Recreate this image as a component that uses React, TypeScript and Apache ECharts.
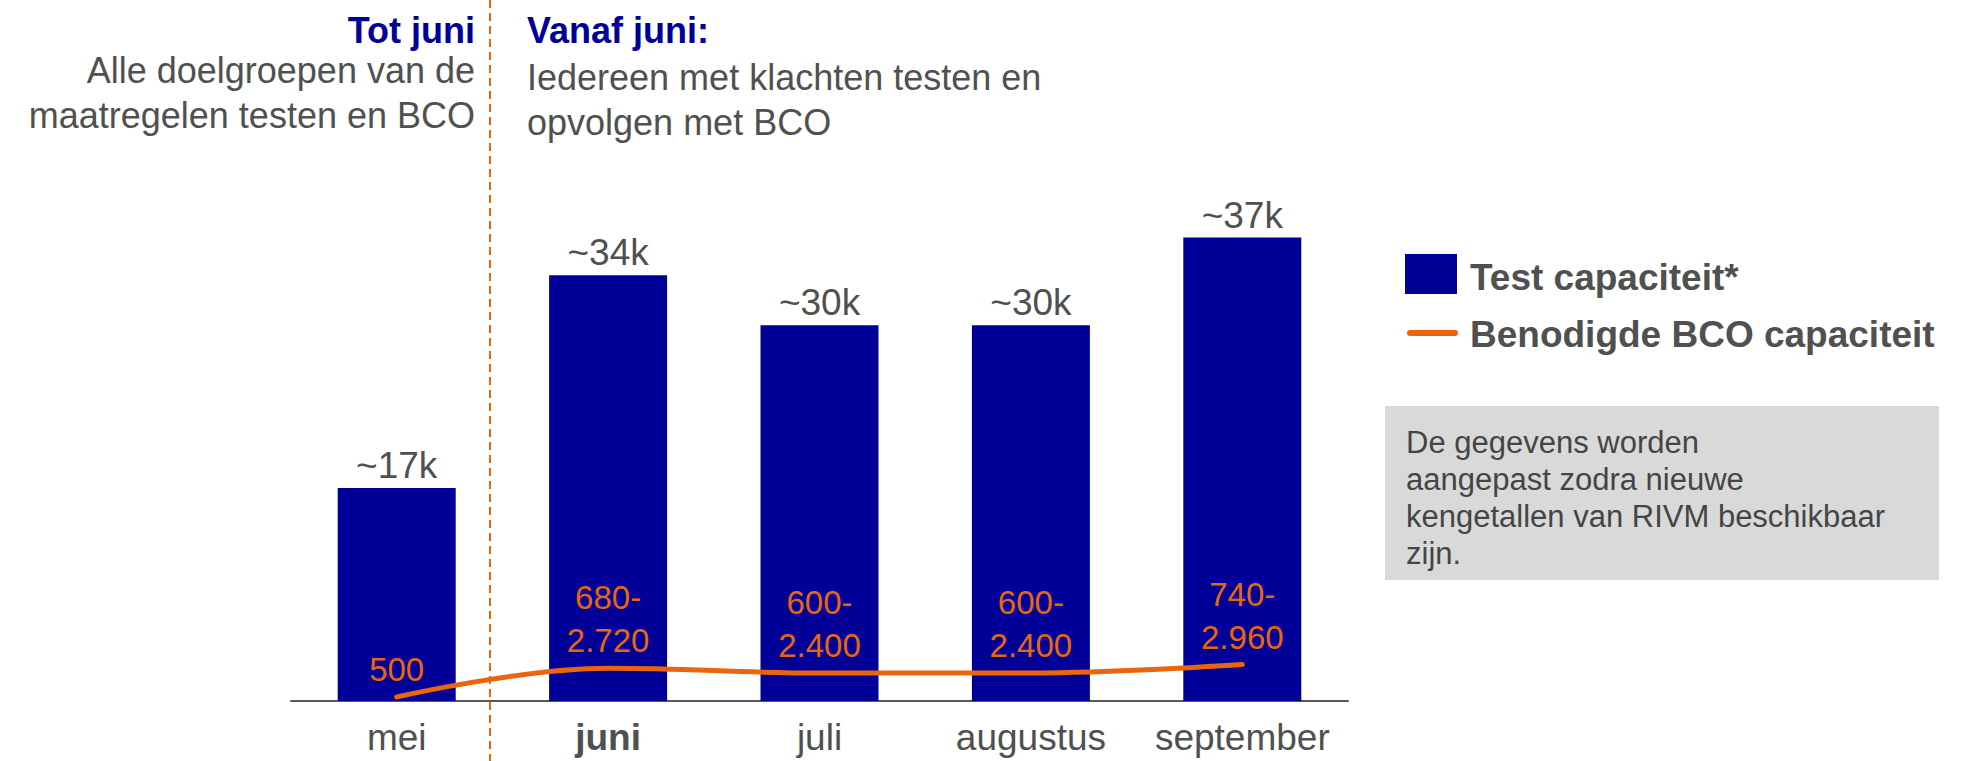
import React, { useEffect, useRef } from "react";
import * as echarts from "echarts";

const months = ["mei", "juni", "juli", "augustus", "september"];
const testCapacity = [17000, 34000, 30000, 30000, 37000];
const testLabels = ["~17k", "~34k", "~30k", "~30k", "~37k"];
const bcoLine = [500, 1700, 1500, 1500, 1850];
const bcoLabels = ["500", "680-\n2.720", "600-\n2.400", "600-\n2.400", "740-\n2.960"];
const boldMonth = "juni";

const NAVY = "#000099";
const ORANGE = "#EA650D";
const GRAY = "#505050";
const FONT = "'Liberation Sans', Arial, sans-serif";

export default function App() {
  const ref = useRef<HTMLDivElement>(null);
  useEffect(() => {
    document.body.style.margin = "0";
    const chart = echarts.init(ref.current!, null, { renderer: "svg" });
    chart.setOption({
      animation: false,
      textStyle: { fontFamily: FONT },
      grid: { left: 291, right: 622, top: 200, bottom: 60 },
      xAxis: {
        type: "category",
        data: months,
        axisLine: { lineStyle: { color: "#595959", width: 2 } },
        axisTick: { show: false },
        axisLabel: {
          interval: 0,
          hideOverlap: false,
          margin: 18,
          fontSize: 37,
          color: GRAY,
          fontFamily: FONT,
          formatter: (v: string) => (v === boldMonth ? `{b|${v}}` : v),
          rich: { b: { fontSize: 37, fontWeight: "bold", color: GRAY, fontFamily: FONT } },
        },
      },
      yAxis: [
        { type: "value", min: 0, max: 40000, show: false, splitLine: { show: false } },
        { type: "value", min: 333, max: 21208, show: false, splitLine: { show: false } },
      ],
      series: [
        {
          name: "Test capaciteit*",
          type: "bar",
          data: testCapacity,
          barWidth: 118,
          itemStyle: { color: NAVY },
          label: {
            show: true,
            position: "top",
            distance: 4,
            fontSize: 37,
            color: GRAY,
            fontFamily: FONT,
            formatter: (p: any) => testLabels[p.dataIndex],
          },
        },
        {
          name: "Benodigde BCO capaciteit",
          type: "line",
          yAxisIndex: 1,
          data: bcoLine,
          smooth: 0.4,
          symbol: "circle",
          symbolSize: 0,
          showSymbol: true,
          lineStyle: { color: ORANGE, width: 5, cap: "round" },
          itemStyle: { color: ORANGE },
          z: 5,
          label: {
            show: true,
            position: "top",
            distance: 6,
            fontSize: 33,
            lineHeight: 43,
            color: ORANGE,
            fontFamily: FONT,
            formatter: (p: any) => bcoLabels[p.dataIndex],
          },
        },
      ],
      graphic: [
        {
          type: "line",
          shape: { x1: 490, y1: 0, x2: 490, y2: 761 },
          style: { stroke: ORANGE, lineWidth: 2, lineDash: [8, 5] },
        },
        {
          type: "text",
          x: 475,
          y: 30,
          style: { text: "Tot juni", fontSize: 36, fontWeight: "bold", fill: NAVY, align: "right", verticalAlign: "middle", fontFamily: FONT },
        },
        {
          type: "text",
          x: 475,
          y: 70,
          style: { text: "Alle doelgroepen van de", fontSize: 36, fill: GRAY, align: "right", verticalAlign: "middle", fontFamily: FONT },
        },
        {
          type: "text",
          x: 475,
          y: 115,
          style: { text: "maatregelen testen en BCO", fontSize: 36, fill: GRAY, align: "right", verticalAlign: "middle", fontFamily: FONT },
        },
        {
          type: "text",
          x: 527,
          y: 30,
          style: { text: "Vanaf juni:", fontSize: 36, fontWeight: "bold", fill: NAVY, align: "left", verticalAlign: "middle", fontFamily: FONT },
        },
        {
          type: "text",
          x: 527,
          y: 77,
          style: { text: "Iedereen met klachten testen en", fontSize: 36, fill: GRAY, align: "left", verticalAlign: "middle", fontFamily: FONT },
        },
        {
          type: "text",
          x: 527,
          y: 122,
          style: { text: "opvolgen met BCO", fontSize: 36, fill: GRAY, align: "left", verticalAlign: "middle", fontFamily: FONT },
        },
        {
          type: "rect",
          shape: { x: 1405, y: 254, width: 52, height: 40 },
          style: { fill: NAVY },
        },
        {
          type: "text",
          x: 1470,
          y: 277,
          style: { text: "Test capaciteit*", fontSize: 37, fontWeight: "bold", fill: GRAY, align: "left", verticalAlign: "middle", fontFamily: FONT },
        },
        {
          type: "line",
          shape: { x1: 1410, y1: 333, x2: 1455, y2: 333 },
          style: { stroke: ORANGE, lineWidth: 6, lineCap: "round" },
        },
        {
          type: "text",
          x: 1470,
          y: 334,
          style: { text: "Benodigde BCO capaciteit", fontSize: 37, fontWeight: "bold", fill: GRAY, align: "left", verticalAlign: "middle", fontFamily: FONT },
        },
        {
          type: "rect",
          shape: { x: 1385, y: 406, width: 554, height: 174 },
          style: { fill: "#D9D9D9" },
        },
        {
          type: "text",
          x: 1406,
          y: 424,
          style: {
            text: "De gegevens worden\naangepast zodra nieuwe\nkengetallen van RIVM beschikbaar\nzijn.",
            fontSize: 31,
            lineHeight: 37,
            fill: "#454545",
            align: "left",
            verticalAlign: "top",
            fontFamily: FONT,
          },
        },
      ],
    });
    return () => chart.dispose();
  }, []);
  return <div ref={ref} style={{ width: 1970, height: 761 }} />;
}
